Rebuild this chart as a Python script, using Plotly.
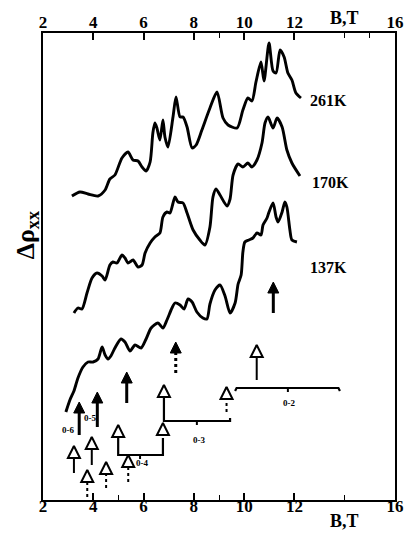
import plotly.graph_objects as go

# ---------------- data ----------------
# B in tesla, delta rho_xx in arbitrary units (curves offset vertically)
B_261 = [3.15, 3.47, 3.79, 4.19, 4.47, 4.66, 4.86, 5.14, 5.38, 5.58, 5.78, 5.94, 6.10, 6.26,
         6.37, 6.45, 6.53, 6.65, 6.77, 6.85, 6.97, 7.17, 7.29, 7.45, 7.57, 7.73, 7.93, 8.09,
         8.32, 8.64, 8.92, 9.16, 9.36, 9.72, 9.95, 10.15, 10.31, 10.47, 10.67, 10.79, 10.99,
         11.15, 11.27, 11.43, 11.59, 11.74, 11.90, 12.06, 12.26]
R_261 = [304, 308, 306, 304, 310, 321, 325, 342, 348, 340, 339, 333, 329, 338,
         367, 377, 372, 360, 380, 363, 353, 383, 403, 383, 383, 373, 352, 355,
         370, 392, 408, 382, 375, 372, 390, 402, 399, 418, 438, 419, 457,
         429, 427, 450, 443, 427, 420, 407, 402]

B_170 = [3.23, 3.39, 3.55, 3.75, 3.95, 4.15, 4.35, 4.47, 4.66, 4.78, 4.94, 5.14, 5.26, 5.38,
         5.58, 5.78, 5.94, 6.06, 6.26, 6.45, 6.65, 6.77, 6.93, 7.05, 7.25, 7.37, 7.57, 7.73,
         7.97, 8.24, 8.44, 8.64, 8.76, 8.88, 9.04, 9.32, 9.44, 9.56, 9.76, 9.95, 10.15, 10.31,
         10.51, 10.71, 10.83, 10.95, 11.15, 11.31, 11.51, 11.70, 11.90, 12.22]
R_170 = [187, 192, 191, 207, 222, 227, 224, 220, 235, 238, 237, 245, 242, 237,
         240, 233, 235, 247, 257, 263, 267, 283, 288, 287, 303, 298, 297, 287,
         270, 260, 255, 273, 303, 311, 305, 294, 301, 325, 336, 333, 337, 333,
         340, 357, 377, 383, 372, 382, 373, 350, 337, 324]

B_137 = [2.91, 3.07, 3.23, 3.39, 3.59, 3.79, 3.99, 4.19, 4.35, 4.47, 4.59, 4.70, 4.86, 5.10,
         5.26, 5.46, 5.66, 5.90, 6.10, 6.30, 6.57, 6.77, 6.93, 7.13, 7.25, 7.45, 7.61, 7.77,
         7.93, 8.12, 8.36, 8.52, 8.64, 8.84, 9.04, 9.24, 9.44, 9.64, 9.76, 9.88, 9.95, 10.03,
         10.19, 10.35, 10.51, 10.67, 10.75, 10.91, 10.99, 11.15, 11.27, 11.35, 11.51, 11.62,
         11.70, 11.82, 11.90, 12.10]
R_137 = [88, 100, 109, 122, 133, 138, 138, 141, 153, 145, 141, 144, 152, 161,
         158, 149, 155, 152, 161, 172, 177, 172, 180, 192, 197, 195, 191, 201,
         198, 188, 182, 181, 196, 210, 215, 204, 187, 197, 216, 225, 248, 258,
         260, 262, 267, 265, 275, 282, 288, 297, 283, 278, 288, 298,
         293, 270, 260, 258]

curve_names = ["261K", "170K", "137K"]
label_B = [12.54, 12.62, 12.54]
label_R = [400, 318, 233]

# solid (filled-head) arrows
solid_B = [3.44, 4.16, 5.33, 7.28, 11.16]
solid_tail = [65, 73, 97, 127, 187]
solid_tip = [98, 108, 128, 158, 218]
solid_dotted = [False, False, False, True, False]

# open-head arrows with a shaft
open_B = [3.23, 3.94, 10.50]
open_tail = [27, 35, 120]
open_tip = [54, 63, 155]

# open heads with a short broken tail
mark_B = [3.76, 4.51, 5.39, 9.30]
mark_tail = [3, 12, 18, 88]
mark_tip = [30, 38, 45, 113]

# transition brackets (Landau level pairs)
br_x = [[4.99, 4.99, 6.77, 6.77], [6.81, 6.81, 9.44, 9.44], [9.64, 9.70, 13.75, 13.81]]
br_y = [[75, 45, 45, 62], [115, 79, 79, 82], [109, 112, 112, 109]]
br_mid_B = [5.86, 8.12, 11.74]
br_mid_y = [45, 79, 112]
br_heads_B = [4.99, 6.77, 6.81]
br_heads_y = [75, 77, 115]
tr_label_B = [3.00, 3.87, 5.94, 8.20, 11.78]
tr_label_R = [70, 82, 37, 60, 97]
tr_label_txt = ["0-6", "0-5", "0-4", "0-3", "0-2"]

tick_vals = [2, 4, 6, 8, 10, 12, 16]
tick_text = ["2", "4", "6", "8", "10", "12", "16"]

# ---------------- figure ----------------
SERIF = "Liberation Serif"
fig = go.Figure()

for B, R in [(B_261, R_261), (B_170, R_170), (B_137, R_137)]:
    fig.add_trace(go.Scatter(x=B, y=R, mode="lines",
                             line=dict(color="black", width=2.9, shape="spline", smoothing=0.7),
                             hoverinfo="skip", showlegend=False))

# solid arrows
for b, t0, t1, dot in zip(solid_B, solid_tail, solid_tip, solid_dotted):
    fig.add_trace(go.Scatter(x=[b, b], y=[t0, t1 - 6], mode="lines",
                             line=dict(color="black", width=3, dash="dot" if dot else "solid"),
                             hoverinfo="skip", showlegend=False))
fig.add_trace(go.Scatter(x=solid_B, y=solid_tip, mode="markers",
                         marker=dict(symbol="arrow-up", size=11, color="black",
                                     line=dict(color="black", width=1)),
                         hoverinfo="skip", showlegend=False))

# open arrows with shaft
for b, t0, t1 in zip(open_B, open_tail, open_tip):
    fig.add_trace(go.Scatter(x=[b, b], y=[t0, t1], mode="lines",
                             line=dict(color="black", width=2),
                             hoverinfo="skip", showlegend=False))
# short broken tails
for b, t0, t1 in zip(mark_B, mark_tail, mark_tip):
    fig.add_trace(go.Scatter(x=[b, b], y=[t0, t1], mode="lines",
                             line=dict(color="black", width=2, dash="dot"),
                             hoverinfo="skip", showlegend=False))

# brackets
for bx, by in zip(br_x, br_y):
    fig.add_trace(go.Scatter(x=bx, y=by, mode="lines",
                             line=dict(color="black", width=2.2),
                             hoverinfo="skip", showlegend=False))
for b, yv in zip(br_mid_B, br_mid_y):
    fig.add_trace(go.Scatter(x=[b, b], y=[yv, yv - 4], mode="lines",
                             line=dict(color="black", width=2),
                             hoverinfo="skip", showlegend=False))

# open heads
fig.add_trace(go.Scatter(x=open_B + mark_B + br_heads_B,
                         y=open_tip + mark_tip + br_heads_y, mode="markers",
                         marker=dict(symbol="arrow-up", size=12, color="white",
                                     line=dict(color="black", width=2)),
                         hoverinfo="skip", showlegend=False))

# invisible trace on the top axis
fig.add_trace(go.Scatter(x=[2, 16], y=[0, 0], xaxis="x2", mode="markers",
                         marker=dict(opacity=0), hoverinfo="skip", showlegend=False))

axis_common = dict(range=[2, 16], tickmode="array", tickvals=tick_vals, ticktext=tick_text,
                   ticks="inside", ticklen=7, tickwidth=1.5, tickcolor="black",
                   showline=True, linecolor="black", linewidth=1.6,
                   showgrid=False, zeroline=False, automargin=False,
                   tickfont=dict(family=SERIF, size=17, color="black", weight="bold"))

fig.update_layout(
    width=407, height=534,
    margin=dict(l=43, r=12, t=33, b=34),
    paper_bgcolor="white", plot_bgcolor="white",
    showlegend=False,
    xaxis=dict(**axis_common, side="bottom", ticklabelstandoff=-10,
               minor=dict(tickmode="array", tickvals=[5, 9, 14], ticks="inside",
                          ticklen=5, tickwidth=1.3, tickcolor="black")),
    xaxis2=dict(**axis_common, side="top", overlaying="x", anchor="y", ticklabelstandoff=-4,
                minor=dict(tickmode="array", tickvals=[9, 14, 15], ticks="inside",
                           ticklen=5, tickwidth=1.3, tickcolor="black")),
    yaxis=dict(range=[0, 467], showticklabels=False, ticks="", showline=True, automargin=False,
               mirror=True, linecolor="black", linewidth=1.6, showgrid=False, zeroline=False),
)

ann = []
for name, bx, ry in zip(curve_names, label_B, label_R):
    ann.append(dict(x=bx, y=ry, xref="x", yref="y", text=name, showarrow=False,
                    xanchor="left", yanchor="middle",
                    font=dict(family=SERIF, size=16, color="black", weight="bold")))
for t, bx, ry in zip(tr_label_txt, tr_label_B, tr_label_R):
    ann.append(dict(x=bx, y=ry, xref="x", yref="y", text=t, showarrow=False,
                    xanchor="center", yanchor="middle",
                    font=dict(family=SERIF, size=9, color="black", weight="bold")))
ann.append(dict(x=14, y=1.033, xref="x", yref="paper", text="B,T", showarrow=False,
                xanchor="center", yanchor="middle",
                font=dict(family=SERIF, size=18, color="black", weight="bold")))
ann.append(dict(x=14, y=-0.045, xref="x", yref="paper", text="B,T", showarrow=False,
                xanchor="center", yanchor="middle",
                font=dict(family=SERIF, size=18, color="black", weight="bold")))
ann.append(dict(x=-0.045, y=0.567, xref="paper", yref="paper", text="Δρ<sub>xx</sub>",
                showarrow=False, textangle=-90, xanchor="center", yanchor="middle",
                font=dict(family=SERIF, size=26, color="black", weight="bold")))
fig.update_layout(annotations=ann)

fig.write_html("out.html", config={"displayModeBar": False},
               post_script="document.body.style.margin='0px';document.body.style.padding='0px';")
